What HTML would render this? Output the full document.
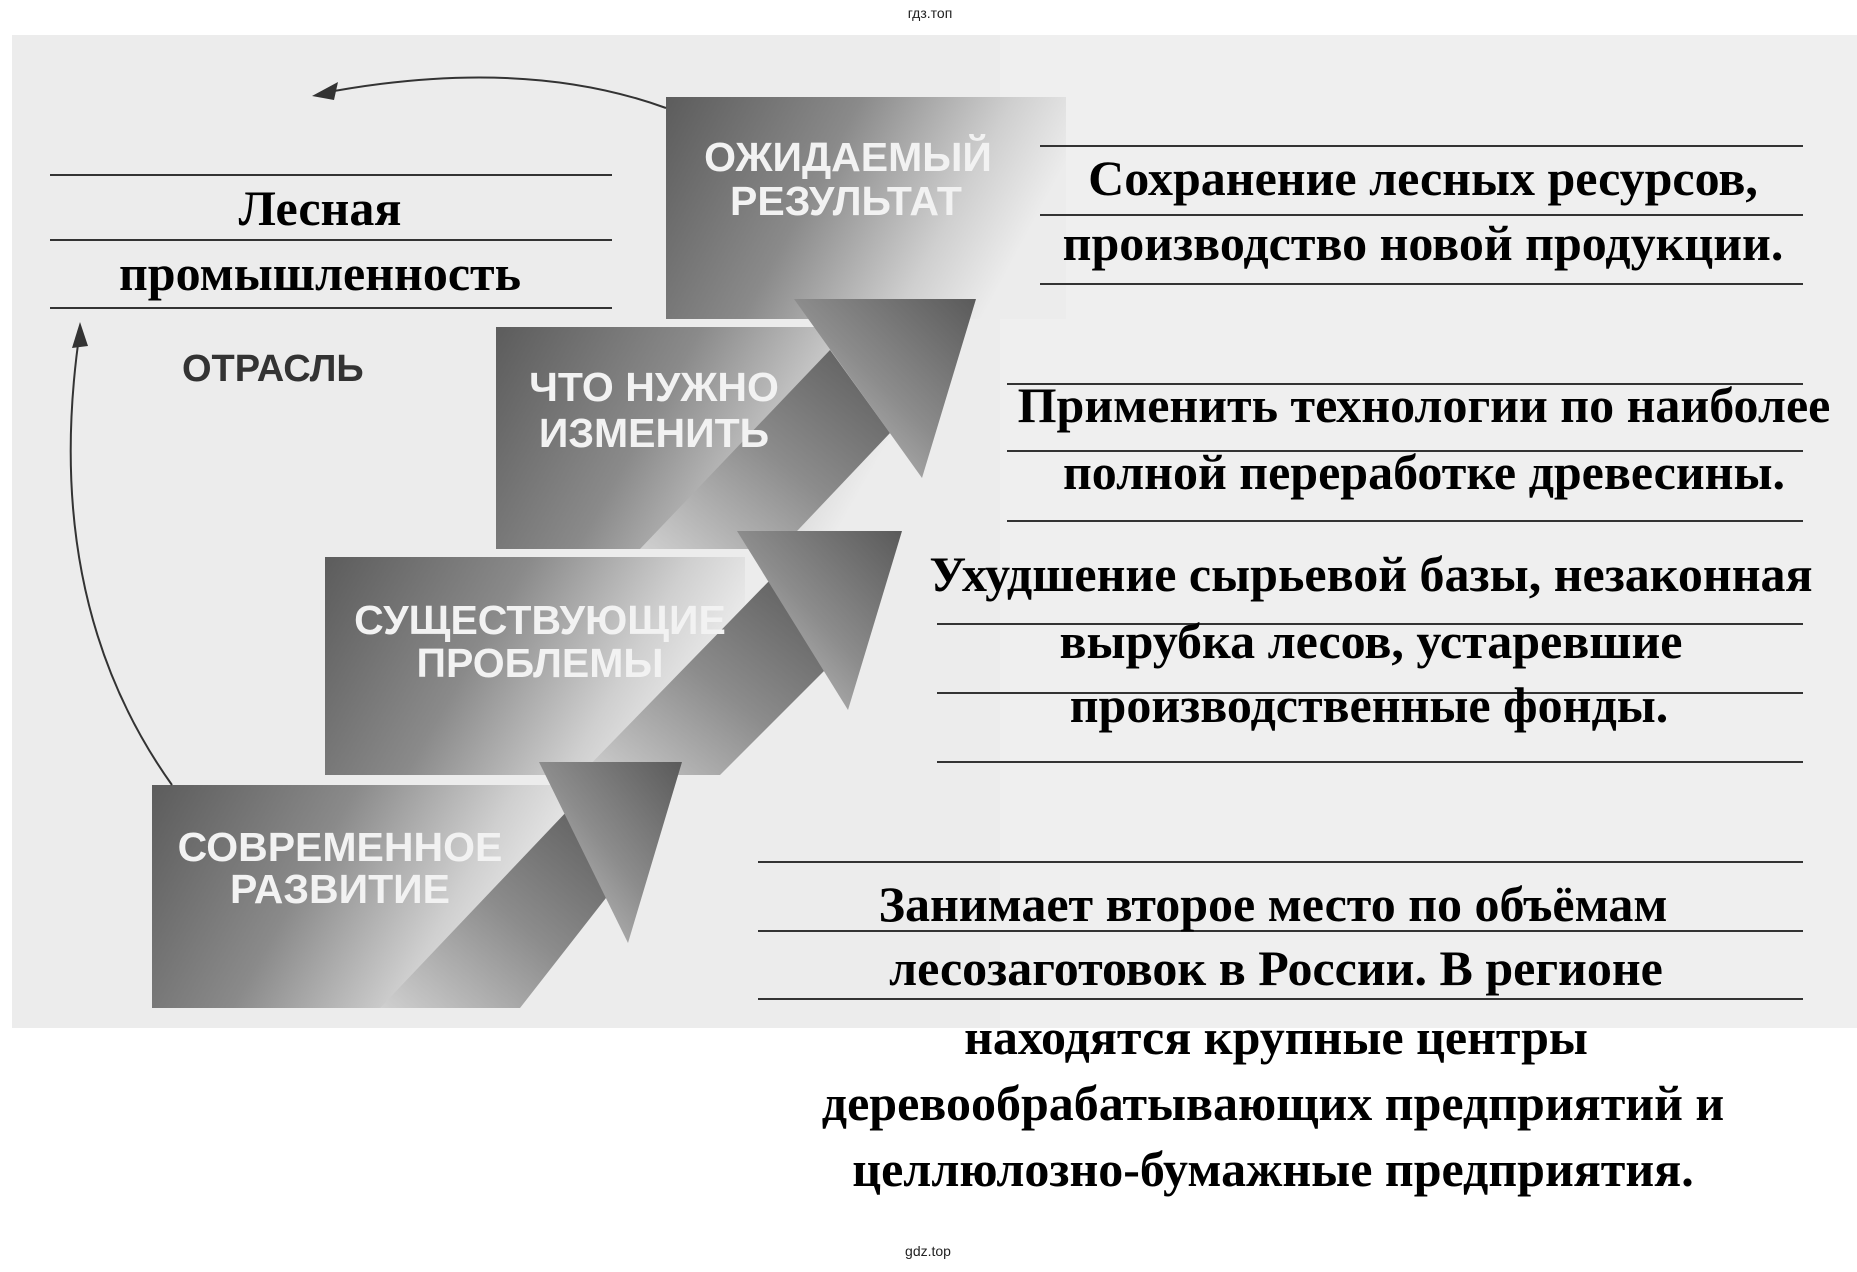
<!DOCTYPE html>
<html><head><meta charset="utf-8"><style>
html,body{margin:0;padding:0;background:#fff;}
svg{display:block;}
.s{font-family:"Liberation Sans","DejaVu Sans",sans-serif;font-weight:bold;}
.r{font-family:"Liberation Serif","DejaVu Serif",serif;font-weight:bold;font-size:50px;fill:#000;}
</style></head><body>
<svg width="1857" height="1272" viewBox="0 0 1857 1272" xmlns="http://www.w3.org/2000/svg">
<defs>
<linearGradient id="bx" x1="0" y1="0" x2="1" y2="0.3">
<stop offset="0" stop-color="#5c5c5c"/><stop offset="0.45" stop-color="#8a8a8a"/><stop offset="0.8" stop-color="#cfcfcf"/><stop offset="1" stop-color="#ececec"/>
</linearGradient>
<linearGradient id="ar" x1="0" y1="1" x2="1" y2="0">
<stop offset="0" stop-color="#d0d0d0"/><stop offset="0.5" stop-color="#8c8c8c"/><stop offset="1" stop-color="#5a5a5a"/>
</linearGradient>
</defs>
<rect x="12" y="35" width="1845" height="993" fill="#ececec"/>
<rect x="1000" y="35" width="857" height="993" fill="#efefef"/>
<text x="930" y="18" font-family="Liberation Sans,sans-serif" font-size="14" text-anchor="middle" fill="#222">гдз.топ</text>
<text x="928" y="1256" font-family="Liberation Sans,sans-serif" font-size="14" text-anchor="middle" fill="#222">gdz.top</text>

<rect x="666" y="97" width="400" height="222" fill="url(#bx)"/>
<rect x="496" y="327" width="420" height="222" fill="url(#bx)"/>
<polygon points="830,350 890,433 780,549 640,549" fill="url(#ar)"/>
<polygon points="794,299 976,299 922,478" fill="url(#ar)"/>
<rect x="325" y="557" width="420" height="218" fill="url(#bx)"/>
<polygon points="770,580 830,665 720,775 580,775" fill="url(#ar)"/>
<polygon points="737,531 902,531 848,710" fill="url(#ar)"/>
<rect x="152" y="785" width="420" height="223" fill="url(#bx)"/>
<polygon points="570,808 620,880 520,1008 380,1008" fill="url(#ar)"/>
<polygon points="539,762 682,762 628,943" fill="url(#ar)"/>

<g class="s" font-size="41" fill="#f2f2f2" text-anchor="middle">
<text x="848" y="171">ОЖИДАЕМЫЙ</text>
<text x="846" y="215">РЕЗУЛЬТАТ</text>
<text x="654" y="401">ЧТО НУЖНО</text>
<text x="654" y="447">ИЗМЕНИТЬ</text>
<text x="540" y="634">СУЩЕСТВУЮЩИЕ</text>
<text x="540" y="677">ПРОБЛЕМЫ</text>
<text x="340" y="861">СОВРЕМЕННОЕ</text>
<text x="340" y="903">РАЗВИТИЕ</text>
</g>
<text x="182" y="381" class="s" font-size="38" fill="#333">ОТРАСЛЬ</text>

<path d="M666,108 Q520,55 318,94" fill="none" stroke="#333" stroke-width="2"/>
<polygon points="312,96 338,82 334,100" fill="#333"/>
<path d="M172,785 Q40,600 80,330" fill="none" stroke="#333" stroke-width="2"/>
<polygon points="80,322 72,348 88,346" fill="#333"/>

<g stroke="#333" stroke-width="2">
<line x1="50" y1="175" x2="612" y2="175"/><line x1="50" y1="240" x2="612" y2="240"/><line x1="50" y1="308" x2="612" y2="308"/>
<line x1="1040" y1="146" x2="1803" y2="146"/><line x1="1040" y1="215" x2="1803" y2="215"/><line x1="1040" y1="284" x2="1803" y2="284"/>
<line x1="1007" y1="384" x2="1803" y2="384"/><line x1="1007" y1="451" x2="1803" y2="451"/><line x1="1007" y1="521" x2="1803" y2="521"/>
<line x1="937" y1="624" x2="1803" y2="624"/><line x1="937" y1="693" x2="1803" y2="693"/><line x1="937" y1="762" x2="1803" y2="762"/>
<line x1="758" y1="862" x2="1803" y2="862"/><line x1="758" y1="931" x2="1803" y2="931"/><line x1="758" y1="999" x2="1803" y2="999"/>
</g>
<g class="r" text-anchor="middle">
<text x="320" y="225">Лесная</text>
<text x="320" y="290">промышленность</text>
<text x="1423" y="195">Сохранение лесных ресурсов,</text>
<text x="1423" y="260">производство новой продукции.</text>
<text x="1424" y="422">Применить технологии по наиболее</text>
<text x="1424" y="489">полной переработке древесины.</text>
<text x="1371" y="591">Ухудшение сырьевой базы, незаконная</text>
<text x="1371" y="658">вырубка лесов, устаревшие</text>
<text x="1369" y="722">производственные фонды.</text>
<text x="1273" y="921">Занимает второе место по объёмам</text>
<text x="1276" y="985">лесозаготовок в России. В регионе</text>
<text x="1276" y="1054">находятся крупные центры</text>
<text x="1273" y="1120">деревообрабатывающих предприятий и</text>
<text x="1273" y="1186">целлюлозно-бумажные предприятия.</text>
</g>
</svg>
</body></html>
